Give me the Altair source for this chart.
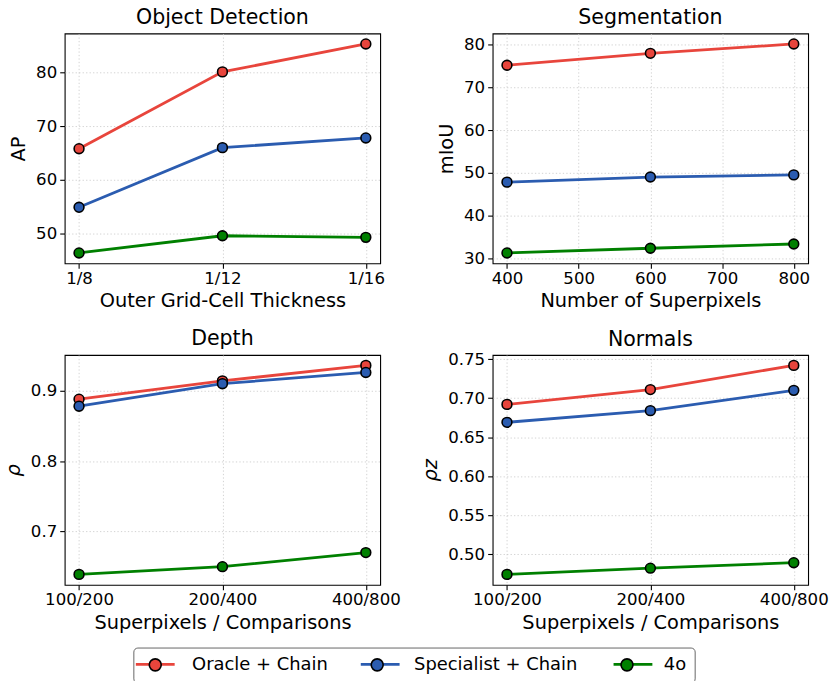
import altair as alt
import pandas as pd

METHODS = ["Oracle + Chain", "Specialist + Chain", "4o"]
COLORS = ["#E8453C", "#2B5CB0", "#008000"]

OD_X = ["1/8", "1/12", "1/16"]
OD_ORACLE = [65.8, 80.1, 85.3]
OD_SPEC = [54.9, 66.0, 67.8]
OD_4O = [46.4, 49.6, 49.3]
OD_TICKS = [50, 60, 70, 80]

SEG_X = [400, 600, 800]
SEG_ORACLE = [75.2, 78.0, 80.2]
SEG_SPEC = [47.8, 49.0, 49.5]
SEG_4O = [31.2, 32.3, 33.3]
SEG_TICKS = [30, 40, 50, 60, 70, 80]
SEG_XTICKS = [400, 500, 600, 700, 800]

DEPTH_X = ["100/200", "200/400", "400/800"]
DEPTH_ORACLE = [0.888, 0.914, 0.936]
DEPTH_SPEC = [0.878, 0.910, 0.926]
DEPTH_4O = [0.639, 0.650, 0.670]
DEPTH_TICKS = [0.7, 0.8, 0.9]

NORM_X = ["100/200", "200/400", "400/800"]
NORM_ORACLE = [0.692, 0.711, 0.742]
NORM_SPEC = [0.669, 0.684, 0.710]
NORM_4O = [0.474, 0.482, 0.489]
NORM_TICKS = [0.50, 0.55, 0.60, 0.65, 0.70, 0.75]

PW, PH = 317, 231
LX, LY = 69, 617


def long_df(xs, series):
    rows = []
    for m, vals in zip(METHODS, series):
        for x, v in zip(xs, vals):
            rows.append({"x": x, "value": v, "method": m, "method_pt": m})
    return pd.DataFrame(rows)


def lims(values):
    lo, hi = min(values), max(values)
    pad = 0.05 * (hi - lo)
    return [lo - pad, hi + pad]


legend_common = dict(
    orient="none", legendX=LX, legendY=LY, direction="horizontal", title=None,
    symbolSize=144, symbolOffset=5, labelOffset=28, columnPadding=26,
    padding=8, labelFontSize=18, labelFont="DejaVu Sans", labelColor="black",
    labelLimit=400,
)
line_legend = alt.Legend(
    symbolType="M-3.25,0L3.25,0", symbolStrokeWidth=2.8, labelOpacity=0,
    **legend_common,
)
# circle symbol; the two zero-length sub-paths give it the same extent as the line symbol
pt_legend = alt.Legend(
    symbolType="M1,0A1,1,0,1,1,-1,0A1,1,0,1,1,1,0Z M-3.25,0L-3.25,0 M3.25,0L3.25,0",
    symbolStrokeColor="black", symbolStrokeWidth=1.6, strokeColor="#666666", cornerRadius=4,
    **legend_common,
)


def panel(df, title, xenc, ytitle, ydomain, yticks, yfmt, italic=False, title_dy=0):
    y = alt.Y(
        "value:Q",
        scale=alt.Scale(domain=ydomain, nice=False, zero=False),
        axis=alt.Axis(values=yticks, format=yfmt, title=ytitle,
                      titleFontStyle="italic" if italic else "normal", grid=True),
    )
    base = alt.Chart(df).encode(x=xenc, y=y)
    line = base.mark_line(strokeWidth=2.8).encode(
        color=alt.Color("method:N", sort=METHODS, scale=alt.Scale(range=COLORS), legend=line_legend)
    )
    pts = base.mark_point(filled=True, size=97, stroke="black", strokeWidth=1.6, opacity=1).encode(
        fill=alt.Fill("method_pt:N", sort=METHODS, scale=alt.Scale(range=COLORS), legend=pt_legend)
    )
    return alt.layer(line, pts).properties(
        width=PW, height=PH, title=alt.TitleParams(title, dy=title_dy)
    )


def cat_x(cats, title):
    return alt.X("x:N", sort=cats, scale=alt.Scale(type="point", padding=0.1),
                 axis=alt.Axis(labelAngle=0, title=title, grid=True, labelPadding=2, titlePadding=5))


p1 = panel(long_df(OD_X, [OD_ORACLE, OD_SPEC, OD_4O]), "Object Detection",
           cat_x(OD_X, "Outer Grid-Cell Thickness"), "AP",
           lims(OD_ORACLE + OD_SPEC + OD_4O), OD_TICKS, "d")
p2 = panel(long_df(SEG_X, [SEG_ORACLE, SEG_SPEC, SEG_4O]), "Segmentation",
           alt.X("x:Q", scale=alt.Scale(domain=lims(SEG_X), nice=False, zero=False),
                 axis=alt.Axis(values=SEG_XTICKS, title="Number of Superpixels", grid=True,
                               format="d", labelPadding=2, titlePadding=5)),
           "mIoU", lims(SEG_ORACLE + SEG_SPEC + SEG_4O), SEG_TICKS, "d")
p3 = panel(long_df(DEPTH_X, [DEPTH_ORACLE, DEPTH_SPEC, DEPTH_4O]), "Depth",
           cat_x(DEPTH_X, "Superpixels / Comparisons"), "ρ",
           lims(DEPTH_ORACLE + DEPTH_SPEC + DEPTH_4O), DEPTH_TICKS, ".1f", italic=True)
p4 = panel(long_df(NORM_X, [NORM_ORACLE, NORM_SPEC, NORM_4O]), "Normals",
           cat_x(NORM_X, "Superpixels / Comparisons"), "ρz",
           lims(NORM_ORACLE + NORM_SPEC + NORM_4O), NORM_TICKS, ".2f", italic=True, title_dy=4)

chart = alt.concat(
    p1, p2, p3, p4, columns=2, bounds="flush",
    spacing={"row": 92, "column": 113},
).configure(
    font="DejaVu Sans", padding={"left": 2, "top": 5, "right": 5, "bottom": 5},
).configure_view(
    stroke="black", strokeWidth=1.1,
).configure_axis(
    domain=False, tickColor="black", tickSize=5, tickWidth=1.1,
    labelColor="black", labelFontSize=16.67, labelFont="DejaVu Sans", labelPadding=3,
    titleFontSize=19.44, titleFont="DejaVu Sans", titleFontWeight="normal", titleColor="black",
    titlePadding=7, gridColor="#c8c8c8", gridDash=[1.3, 2.2], gridWidth=0.8,
).configure_title(
    fontSize=20.6, font="DejaVu Sans", fontWeight="normal", color="black",
    anchor="middle", offset=5, baseline="alphabetic",
)

chart.save("out.html", embed_options={"renderer": "svg", "actions": False})
